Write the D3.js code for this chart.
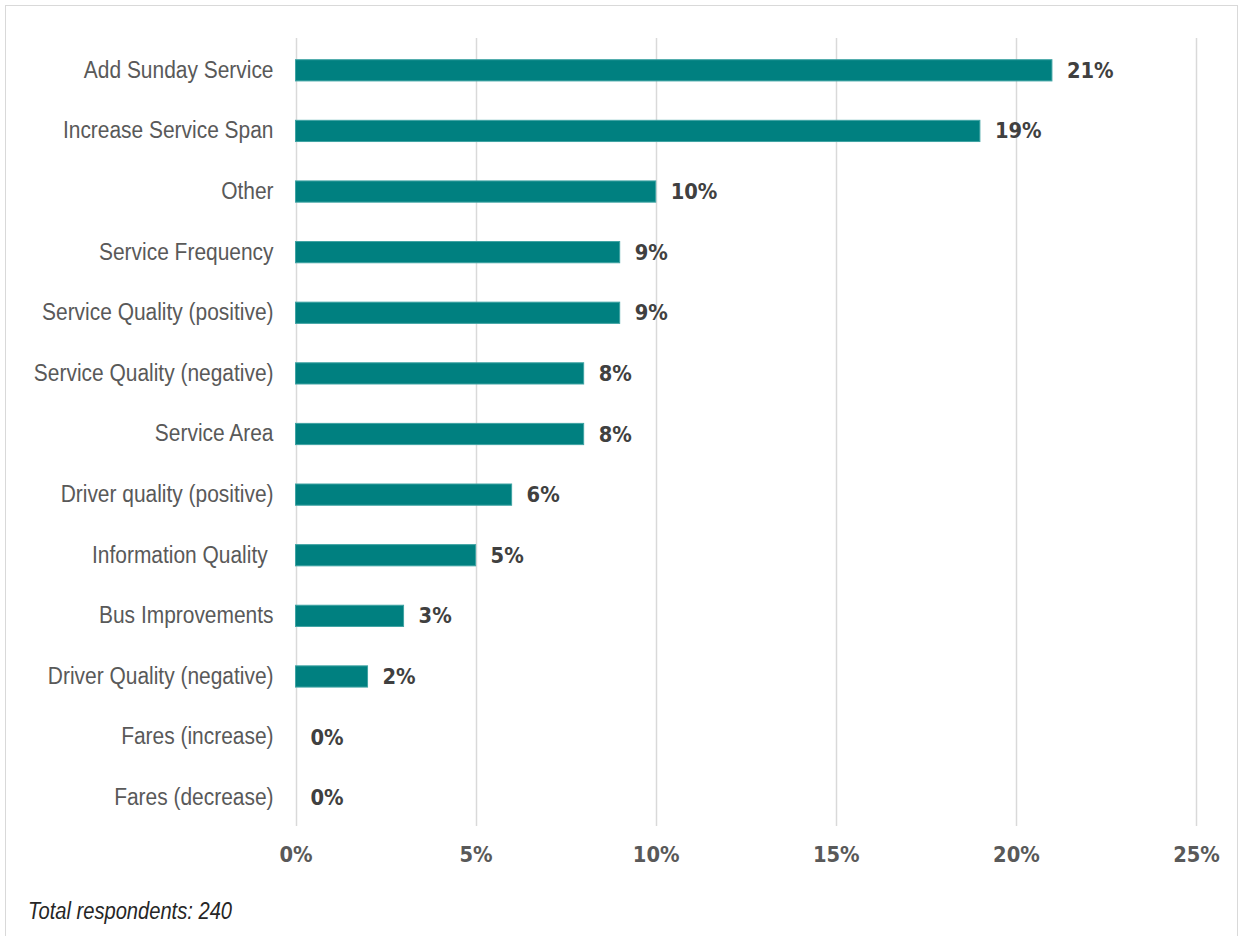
<!DOCTYPE html>
<html>
<head>
<meta charset="utf-8">
<script src="https://cdn.jsdelivr.net/npm/d3@7"></script>
<style>
  html, body { margin: 0; padding: 0; background: #ffffff; }
  svg { display: block; }
  text { white-space: pre; }
</style>
</head>
<body>
<svg id="chart" width="1240" height="936"></svg>
<script>
// Survey response categories and share of respondents (%)
const categories = [
  "Add Sunday Service",
  "Increase Service Span",
  "Other",
  "Service Frequency",
  "Service Quality (positive)",
  "Service Quality (negative)",
  "Service Area",
  "Driver quality (positive)",
  "Information Quality ",
  "Bus Improvements",
  "Driver Quality (negative)",
  "Fares (increase)",
  "Fares (decrease)"
];
const shares = [21, 19, 10, 9, 9, 8, 8, 6, 5, 3, 2, 0, 0];
const tickValues = [0, 5, 10, 15, 20, 25];
const footnote = "Total respondents: 240";

const svg = d3.select("#chart");
const W = 1240, H = 936;
const labelFont = "'Liberation Sans', Arial, sans-serif";
const valueFont = "'DejaVu Sans', sans-serif";

// squeeze a text element horizontally to emulate a condensed face
function condense(sel, factor) {
  sel.each(function () {
    const len = this.getComputedTextLength();
    d3.select(this).attr("textLength", len * factor).attr("lengthAdjust", "spacingAndGlyphs");
  });
}

// outer frame
svg.append("rect")
  .attr("x", 5.5).attr("y", 5.5)
  .attr("width", W - 8).attr("height", H)
  .attr("fill", "#fff").attr("stroke", "#d9d9d9").attr("stroke-width", 1);

const plot = { left: 295.5, right: 1196, top: 38, bottom: 826 };

const x = d3.scaleLinear().domain([0, 25]).range([plot.left, plot.right]);
const y = d3.scaleBand().domain(categories).range([plot.top + 2, plot.bottom + 2]).paddingInner(0.65).paddingOuter(0.325);

// vertical gridlines
svg.append("g").selectAll("line").data(tickValues).join("line")
  .attr("x1", d => Math.round(x(d)) + 0.5).attr("x2", d => Math.round(x(d)) + 0.5)
  .attr("y1", plot.top).attr("y2", plot.bottom)
  .attr("stroke", "#d9d9d9").attr("stroke-width", 1.5);

// x axis tick labels
const xAxis = d3.axisBottom(x).tickValues(tickValues).tickFormat(d => d + "%").tickSize(0).tickPadding(21);
const gx = svg.append("g").attr("transform", `translate(0,${plot.bottom})`).call(xAxis);
gx.select(".domain").remove();
gx.selectAll("text")
  .attr("font-family", valueFont).attr("font-weight", "bold")
  .attr("font-size", 21).attr("fill", "#595959")
  .call(condense, 0.93);

// y axis category labels
const yAxis = d3.axisLeft(y).tickSize(0).tickPadding(22);
const gy = svg.append("g").attr("transform", `translate(${plot.left},0)`).call(yAxis);
gy.select(".domain").remove();
gy.selectAll("text")
  .attr("font-family", labelFont)
  .attr("font-size", 23).attr("fill", "#595959")
  .call(condense, 0.91);

// bars
svg.append("g").selectAll("rect").data(categories).join("rect")
  .attr("x", x(0))
  .attr("y", d => y(d))
  .attr("width", (d, i) => x(shares[i]) - x(0))
  .attr("height", y.bandwidth())
  .attr("fill", "#008080")
  .attr("stroke", (d, i) => shares[i] > 0 ? "#3fa3a3" : "none")
  .attr("stroke-width", 1);

// value labels
svg.append("g").selectAll("text").data(categories).join("text")
  .attr("x", (d, i) => x(shares[i]) + 15)
  .attr("y", d => y(d) + y.bandwidth() / 2)
  .attr("dy", "0.36em")
  .attr("font-family", valueFont).attr("font-weight", "bold")
  .attr("font-size", 21).attr("fill", "#404040")
  .text((d, i) => shares[i] + "%")
  .call(condense, 0.93);

// footnote
svg.append("text")
  .attr("x", 28).attr("y", 919)
  .attr("font-family", labelFont).attr("font-style", "italic")
  .attr("font-size", 23).attr("fill", "#262626")
  .text(footnote)
  .call(condense, 0.875);
</script>
</body>
</html>
